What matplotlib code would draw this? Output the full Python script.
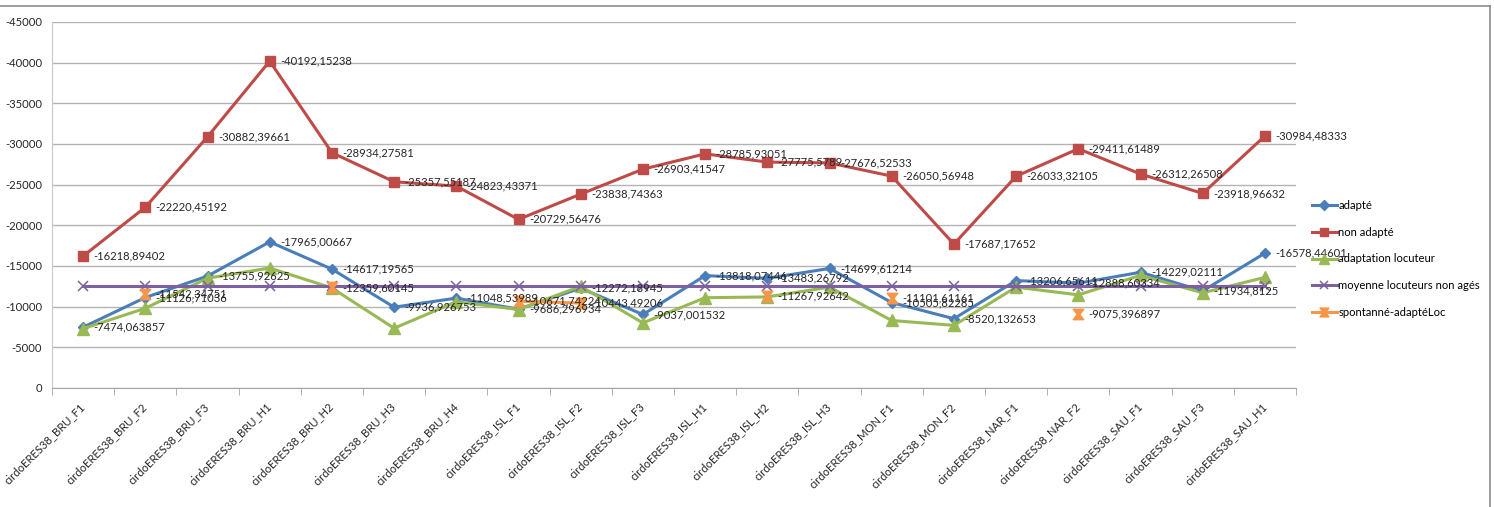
import numpy as np
import matplotlib
matplotlib.use('Agg')
import matplotlib.pyplot as plt
from matplotlib.path import Path
from matplotlib.lines import Line2D

plt.rcParams['font.family'] = ['Lato', 'DejaVu Sans']
plt.rcParams['axes.unicode_minus'] = False

# --- Data ---
speakers = ['BRU_F1', 'BRU_F2', 'BRU_F3', 'BRU_H1', 'BRU_H2', 'BRU_H3', 'BRU_H4',
            'ISL_F1', 'ISL_F2', 'ISL_F3', 'ISL_H1', 'ISL_H2', 'ISL_H3',
            'MON_F1', 'MON_F2', 'NAR_F1', 'NAR_F2', 'SAU_F1', 'SAU_F3', 'SAU_H1']
categories = ['cirdoERES38_' + s for s in speakers]

adapte = [-7474.063857, -11126.71036, -13755.92625, -17965.00667, -14617.19565,
          -9936.926753, -11048.53989, -9686.296934, -12272.18945, -9037.001532,
          -13818.07446, -13483.26792, -14699.61214, -10505.82285, -8520.132653,
          -13206.65611, -12888.60334, -14229.02111, -11934.8125, -16578.44601]

non_adapte = [-16218.89402, -22220.45192, -30882.39661, -40192.15238, -28934.27581,
              -25357.55187, -24823.43371, -20729.56476, -23838.74363, -26903.41547,
              -28785.93051, -27775.5789, -27676.52533, -26050.56948, -17687.17652,
              -26033.32105, -29411.61489, -26312.26508, -23918.96632, -30984.48333]

# no labels on this series
adaptation_locuteur = [-7300, -9800, -13500, -14750, -12300, -7350, -10600, -9650,
                       -12500, -8000, -11100, -11200, -12400, -8300, -7700,
                       -12400, -11450, -13850, -11700, -13600]

moyenne_non_ages = [-12580] * 20

nan = np.nan
spontane = [nan, -11542.34751, nan, nan, -12359.60145, nan, nan, -10671.74224,
            -10443.49206, nan, nan, -11267.92642, nan, -11101.61161, nan,
            nan, -9075.396897, nan, nan, nan]

# --- Styles ---
hourglass = Path([(-1, 1), (1, 1), (0.25, 0), (1, -1), (-1, -1), (-0.25, 0), (-1, 1)],
                 [Path.MOVETO] + [Path.LINETO] * 5 + [Path.CLOSEPOLY])

W, H = 1494, 507
fig = plt.figure(figsize=(W / 100, H / 100), dpi=100)
ax = fig.add_axes([52 / W, 1 - 388 / H, (1296 - 52) / W, (388 - 22) / H])

x = np.arange(len(categories))
text_color = '#262626'
fs = 8.1


def put_labels(values):
    for xi, v in zip(x, values):
        if np.isnan(v):
            continue
        ax.annotate(str(v).replace('.', ','), (xi, v), xytext=(7.5, 0),
                    textcoords='offset points', va='center', ha='left',
                    fontsize=fs, color=text_color, zorder=10)


ax.plot(x, adapte, color='#4A7EBB', lw=2.2, marker='D', ms=5.5, label='adapté', zorder=3)
ax.plot(x, non_adapte, color='#BE4B48', lw=2.2, marker='s', ms=7, label='non adapté', zorder=4)
ax.plot(x, adaptation_locuteur, color='#98B954', lw=2.2, marker='^', ms=8,
        label='adaptation locuteur', zorder=5)
ax.plot(x, moyenne_non_ages, color='#7D60A0', lw=2.2, marker='x', ms=7.5, mew=1.1,
        label='moyenne locuteurs non agés', zorder=6)
ax.plot(x, spontane, color='#F79646', lw=2.2, marker=hourglass, ms=7.5,
        label='spontanné-adaptéLoc', zorder=7)

put_labels(adapte)
put_labels(non_adapte)
put_labels(spontane)

# axes
ax.set_xlim(-0.5, len(categories) - 0.5)
ax.set_ylim(0, -45000)
ax.set_yticks(np.arange(0, -45001, -5000))
ax.yaxis.grid(True, color='#B3B3B3', lw=1)
ax.set_axisbelow(True)
ax.tick_params(axis='y', length=0, labelsize=fs, labelcolor=text_color, pad=7)

ax.set_xticks(x)
ax.set_xticklabels(categories, rotation=45, ha='right', va='center',
                   rotation_mode='anchor', fontsize=fs, color=text_color)
ax.set_xticks(np.arange(-0.5, len(categories), 1), minor=True)
ax.tick_params(axis='x', which='major', length=0, pad=12)
ax.tick_params(axis='x', which='minor', length=5, color='#A6A6A6')

for side in ['top', 'right']:
    ax.spines[side].set_visible(False)
ax.spines['left'].set_color('#C8C8C8')
ax.spines['bottom'].set_color('#A6A6A6')

fig.legend(loc='upper left', bbox_to_anchor=(1312 / W, 1 - 200 / H), frameon=False,
           fontsize=fs, labelspacing=1.4, handlelength=2.2, handletextpad=0.15,
           borderaxespad=0, borderpad=0, markerscale=0.85)

# chart frame (top and right edge visible in the screenshot)
fig.add_artist(Line2D([0, 1490 / W], [1 - 6 / H, 1 - 6 / H], color='#8C8C8C', lw=1.2))
fig.add_artist(Line2D([1490 / W, 1490 / W], [0, 1 - 6 / H], color='#8C8C8C', lw=1.2))

fig.savefig('out.png', dpi=100)
